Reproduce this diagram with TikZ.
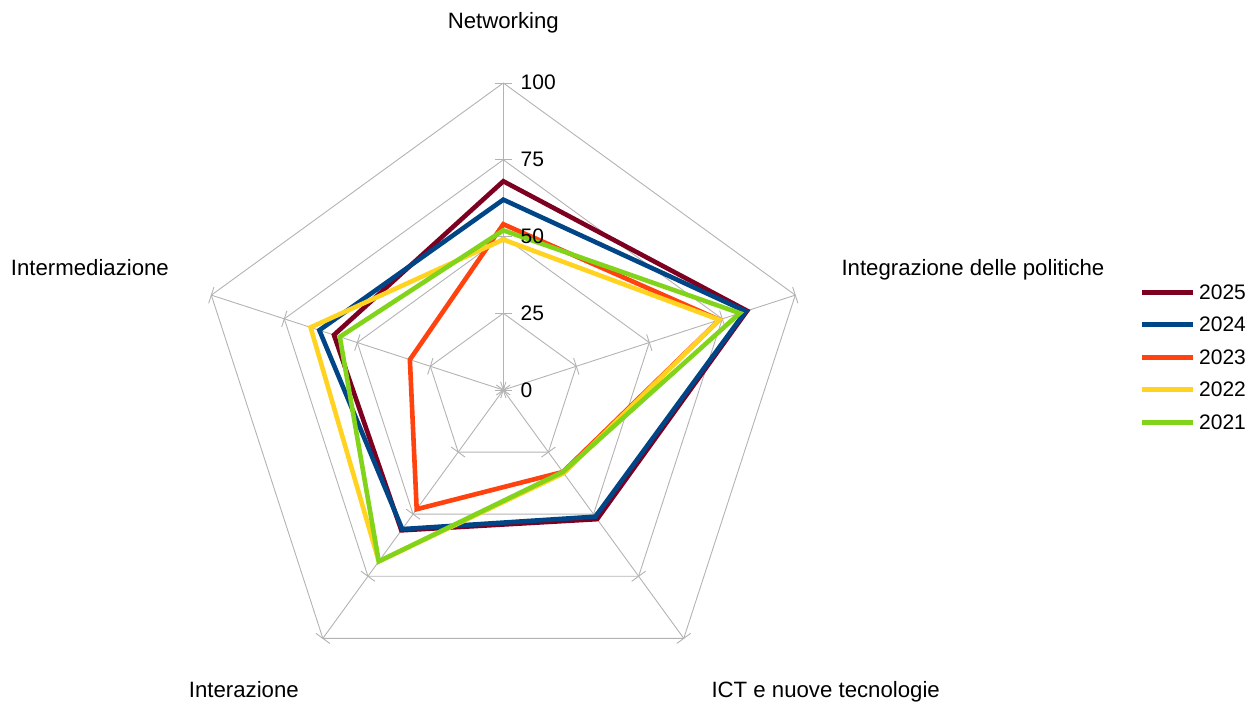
\documentclass[tikz,border=0pt]{standalone}
\usepackage{fontspec}
\setmainfont{Liberation Sans}
\usetikzlibrary{calc}
\definecolor{c25}{HTML}{7E0021}
\definecolor{c24}{HTML}{004586}
\definecolor{c23}{HTML}{FF420E}
\definecolor{c22}{HTML}{FFD320}
\definecolor{c21}{HTML}{81D41A}
\definecolor{gridc}{HTML}{B3B3B3}
\begin{document}
\begin{tikzpicture}[x=1pt,y=1pt,
  gridline/.style={draw=gridc,line width=0.9pt},
  series/.style={line width=4.6pt,line join=miter},
  lbl/.style={font=\fontsize{22.2}{26}\selectfont,inner sep=0pt,text=black},
  tlbl/.style={font=\fontsize{21}{25}\selectfont,inner sep=0pt,text=black},
]
\useasboundingbox (0,0) rectangle (1257,-703);
\coordinate (O) at (503.3,-390);
\begin{scope}[shift={(O)},x=3.07pt,y=3.07pt]
  \foreach \r in {25,50,75,100}
    \draw[gridline] (90:\r) -- (18:\r) -- (-54:\r) -- (-126:\r) -- (162:\r) -- cycle;
  \foreach \a in {18,-54,-126,162}
    \draw[gridline] (0,0) -- (\a:100);
  \draw[gridline,line width=1.6pt] (0,0) -- (90:100);
  \foreach \a in {90,18,-54,-126,162}
    \foreach \r in {0,25,50,75,100}
      \draw[gridline] (\a:\r) ++({\a+90}:2.8) -- ++({\a-90}:5.6);
  % series
  \draw[series,c25] (90:68) -- (18:83.5) -- (-54:52) -- (-126:56.5) -- (162:58) -- cycle;
  \draw[series,c24] (90:62) -- (18:83) -- (-54:51) -- (-126:56) -- (162:63) -- cycle;
  \draw[series,c23] (90:54) -- (18:74) -- (-54:33) -- (-126:48) -- (162:32) -- cycle;
  \draw[series,c22] (90:49) -- (18:74) -- (-54:33.5) -- (-126:69) -- (162:66) -- cycle;
  \draw[series,c21] (90:52) -- (18:81) -- (-54:33) -- (-126:69) -- (162:56) -- cycle;
\end{scope}
% tick labels
\node[tlbl,anchor=west] (t100) at (520.5,-82.7) {100};
\node[tlbl,anchor=west] (t75) at (520.5,-159.5) {75};
\node[tlbl,anchor=west] (t50) at (520.5,-236.3) {50};
\node[tlbl,anchor=west] (t25) at (520.5,-313.2) {25};
\node[tlbl,anchor=west] (t0) at (520.5,-390) {0};
% axis labels
\node[lbl,anchor=base] (net) at (503.3,-29) {Networking};
\node[lbl,anchor=base west] (integ) at (841.3,-275) {Integrazione delle politiche};
\node[lbl,anchor=base west] (ict) at (711.3,-697) {ICT e nuove tecnologie};
\node[lbl,anchor=base west] (inter) at (188.7,-697) {Interazione};
\node[lbl,anchor=base west] (interm) at (10.7,-275) {Intermediazione};
% legend
\foreach \yy/\cc/\tt in {292.7/c25/2025,324.3/c24/2024,357.7/c23/2023,389.3/c22/2022,422.3/c21/2021}{
  \coordinate (ls\tt) at (1142,-\yy);
  \coordinate (le\tt) at (1193,-\yy);
  \draw[\cc,line width=4.6pt] (ls\tt) -- (le\tt);
  \node[tlbl,anchor=west] (leg\tt) at (1199,-\yy) {\tt};
}
\end{tikzpicture}
\end{document}
